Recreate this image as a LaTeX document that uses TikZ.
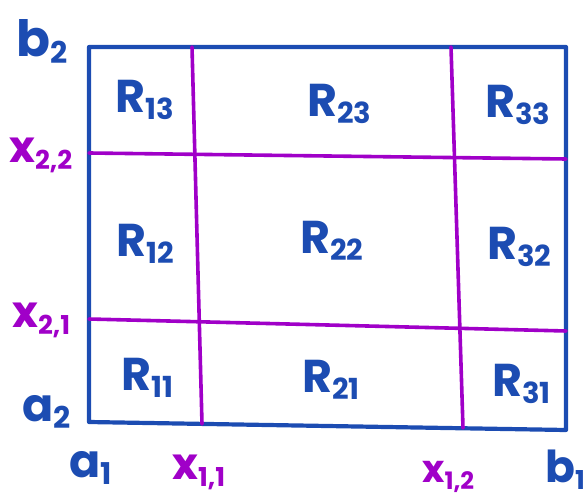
\documentclass[tikz,border=0pt]{standalone}
\usepackage{fontspec}
\setmainfont{Poppins}
\definecolor{penblue}{RGB}{28,76,178}
\definecolor{penmag}{RGB}{160,0,200}
\newcommand{\hwlab}[4]{{\fontsize{#3}{#3}\selectfont #1}\raisebox{-7pt}{\fontsize{#4}{#4}\selectfont #2}}
\tikzset{
  frame/.style={draw=penblue, line width=4.2pt, line join=round, line cap=round},
  cut/.style={draw=penmag, line width=3.6pt, line cap=round},
  rlab/.style={anchor=base west, inner sep=0pt, text=penblue, font=\bfseries},
  blab/.style={anchor=base west, inner sep=0pt, text=penblue, font=\bfseries},
  mlab/.style={anchor=base west, inner sep=0pt, text=penmag, font=\bfseries}
}
\begin{document}
\begin{tikzpicture}[x=1pt,y=-1pt]
\useasboundingbox (0,0) rectangle (588,497);
% corners
\coordinate (tl) at (89,47);
\coordinate (tr) at (566,47);
\coordinate (br) at (566,430);
\coordinate (bl) at (89,422);
% cut ends
\coordinate (v1t) at (192,47);
\coordinate (v1b) at (202,424);
\coordinate (v2t) at (451,47);
\coordinate (v2b) at (463,428);
\coordinate (h2l) at (89,153);
\coordinate (h2r) at (566,159);
\coordinate (h1l) at (89,319);
\coordinate (h1r) at (566,331);
\draw[frame] (tl) -- (tr) -- (br) -- (bl) -- cycle;
\draw[cut] (v1t) -- (v1b);
\draw[cut] (v2t) -- (v2b);
\draw[cut] (h2l) -- (h2r);
\draw[cut] (h1l) -- (h1r);
% region labels
\node[rlab] (r13) at (115,113) {\hwlab{R}{13}{46}{29}};
\node[rlab] (r23) at (307,117) {\hwlab{R}{23}{46}{29}};
\node[rlab] (r33) at (485,118) {\hwlab{R}{33}{46}{29}};
\node[rlab] (r12) at (116,256) {\hwlab{R}{12}{46}{29}};
\node[rlab] (r22) at (300,253) {\hwlab{R}{22}{46}{29}};
\node[rlab] (r32) at (487,259) {\hwlab{R}{32}{46}{29}};
\node[rlab] (r11) at (121,390) {\hwlab{R}{11}{46}{29}};
\node[rlab] (r21) at (302,392) {\hwlab{R}{21}{46}{29}};
\node[rlab] (r31) at (492,396) {\hwlab{R}{31}{46}{29}};
% bounds
\node[blab] (b2) at (16,57) {\hwlab{b}{2}{50}{30}};
\node[blab] (a2) at (22,421) {\hwlab{a}{2}{46}{30}};
\node[blab] (a1) at (69,477) {\hwlab{a}{1}{46}{30}};
\node[blab] (b1) at (545,482) {\hwlab{b}{1}{44}{26}};
% cut labels
\node[mlab] (x22) at (9,162) {\hwlab{x}{2,2}{44}{26}};
\node[mlab] (x21) at (12,327) {\hwlab{x}{2,1}{44}{26}};
\node[mlab] (x11) at (172,479) {\hwlab{x}{1,1}{44}{26}};
\node[mlab] (x12) at (422,482) {\hwlab{x}{1,2}{38}{24}};
\end{tikzpicture}
\end{document}
